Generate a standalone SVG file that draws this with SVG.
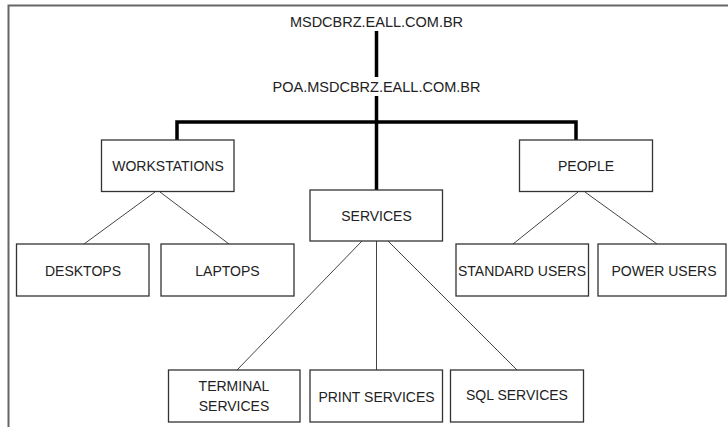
<svg xmlns="http://www.w3.org/2000/svg" width="728" height="427" viewBox="0 0 728 427">
<style>
.frame{stroke:#666;stroke-width:2;fill:none}
.box{fill:#fff;stroke:#333;stroke-width:1.3}
.thick{stroke:#000;stroke-width:3.5;fill:none}
.thin{stroke:#444;stroke-width:1;fill:none}
text{font-family:"Liberation Sans",Arial,sans-serif;font-size:14px;fill:#222;text-anchor:middle}
.top{font-size:14.5px}
</style>
<rect width="728" height="427" fill="#fff"/>
<path class="frame" d="M8.5,427 V5.5 H728"/>
<g id="connectors">
<path class="thick" d="M376.5,31 V77 M376.5,96 V190 M177,140 V122 H576 V140"/>
<path class="thin" d="M155,192 L84,244 M160,192 L229,244"/>
<path class="thin" d="M578,192 L513,244 M585,192 L657,244"/>
<path class="thin" d="M362,241 L237,370 M376.5,241 V370 M388,241 L517,370"/>
</g>
<g id="root"><text class="top" x="376.5" y="26.5">MSDCBRZ.EALL.COM.BR</text></g>
<g id="poa"><text class="top" x="376.5" y="91.5">POA.MSDCBRZ.EALL.COM.BR</text></g>
<g id="workstations"><rect class="box" x="101.5" y="140" width="132.5" height="51.5"/><text x="168" y="171">WORKSTATIONS</text></g>
<g id="services"><rect class="box" x="310" y="190" width="132.5" height="51"/><text x="376.5" y="221">SERVICES</text></g>
<g id="people"><rect class="box" x="519.5" y="140" width="133" height="51.5"/><text x="586" y="171">PEOPLE</text></g>
<g id="desktops"><rect class="box" x="16.5" y="244" width="132.5" height="52"/><text x="83" y="276">DESKTOPS</text></g>
<g id="laptops"><rect class="box" x="161" y="244" width="133" height="52"/><text x="227.5" y="276">LAPTOPS</text></g>
<g id="standard-users"><rect class="box" x="456" y="244" width="132.5" height="52"/><text x="522" y="276">STANDARD USERS</text></g>
<g id="power-users"><rect class="box" x="598" y="244" width="128" height="52"/><text x="664" y="276">POWER USERS</text></g>
<g id="terminal-services"><rect class="box" x="168.5" y="370" width="131.5" height="52"/><text x="234" y="391">TERMINAL</text><text x="234" y="411">SERVICES</text></g>
<g id="print-services"><rect class="box" x="310" y="370" width="132.5" height="52"/><text x="376.5" y="402">PRINT SERVICES</text></g>
<g id="sql-services"><rect class="box" x="450.5" y="370" width="133" height="52"/><text x="517" y="400">SQL SERVICES</text></g>
</svg>
